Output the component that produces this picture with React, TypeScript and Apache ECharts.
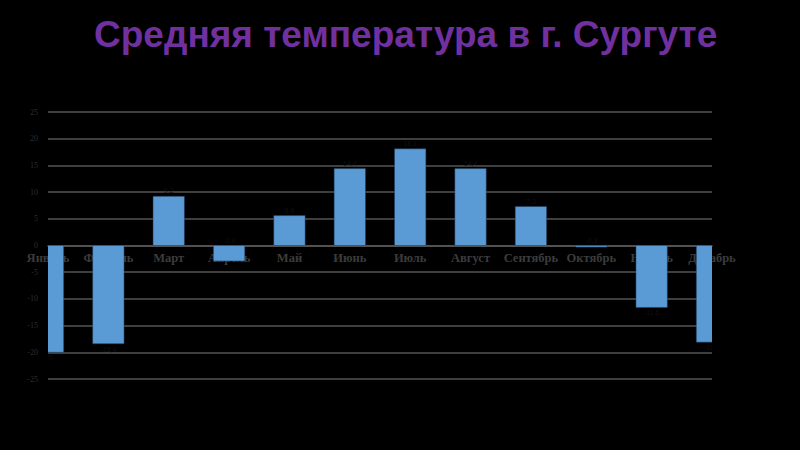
import React, { useEffect, useRef } from "react";
import * as echarts from "echarts";

const titleText = "Средняя температура в г. Сургуте";
const months = [
  "Январь", "Февраль", "Март", "Апрель", "Май", "Июнь",
  "Июль", "Август", "Сентябрь", "Октябрь", "Ноябрь", "Декабрь",
];
const temperatures = [-20, -18.4, 9.2, -2.9, 5.6, 14.4, 18.1, 14.4, 7.3, -0.3, -11.6, -18.1];
const yMin = -25;
const yMax = 25;
const yStep = 5;

const GRID_TOP = 112;
const GRID_BOTTOM = 71;
const GRID_H = 450 - GRID_TOP - GRID_BOTTOM;

export default function App() {
  const ref = useRef<HTMLDivElement>(null);
  useEffect(() => {
    if (!ref.current) return;
    const chart = echarts.init(ref.current, null, { renderer: "svg" });
    const zeroOffset = -((0 - yMin) / (yMax - yMin)) * GRID_H;
    chart.setOption({
      animation: false,
      backgroundColor: "#000000",
      title: {
        text: titleText,
        left: 89,
        top: 11,
        textStyle: {
          color: "#7030A0",
          fontFamily: "Liberation Sans, Arial, sans-serif",
          fontWeight: "bold",
          fontSize: 37,
        },
      },
      grid: { left: 48, right: 88, top: GRID_TOP, bottom: GRID_BOTTOM },
      xAxis: {
        type: "category",
        data: months,
        boundaryGap: false,
        offset: zeroOffset,
        axisLine: { onZero: false, lineStyle: { color: "#5a5a5a", width: 1.5 } },
        axisTick: { show: false },
        axisLabel: {
          color: "#3c3c3c",
          fontFamily: "Liberation Serif, Times New Roman, serif",
          fontWeight: "bold",
          fontSize: 12.5,
          margin: 6,
          interval: 0,
        },
        splitLine: { show: false },
      },
      yAxis: {
        type: "value",
        min: yMin,
        max: yMax,
        interval: yStep,
        axisLine: { show: false },
        axisTick: { show: false },
        axisLabel: {
          color: "#2e2e2e",
          fontFamily: "Liberation Serif, Times New Roman, serif",
          fontSize: 8,
          margin: 10,
        },
        splitLine: { lineStyle: { color: "#555555", width: 1.5 } },
      },
      series: [
        {
          type: "custom",
          clip: true,
          z: 3,
          data: temperatures.map((v, i) => [i, v]),
          renderItem: (params: any, api: any) => {
            const idx = api.value(0);
            const val = api.value(1);
            const top = api.coord([idx, val]);
            const base = api.coord([idx, 0]);
            const bw = api.size([1, 0])[0] * 0.52;
            const y = Math.min(top[1], base[1]);
            const h = Math.abs(base[1] - top[1]);
            const above = val >= 0 || h < 22;
            return {
              type: "group",
              children: [
                {
                  type: "rect",
                  shape: { x: top[0] - bw / 2, y, width: bw, height: h },
                  style: { fill: "#5B9BD5", stroke: "#1f3a5a", lineWidth: 0.5 },
                },
                {
                  type: "text",
                  x: top[0],
                  y: above ? y - 2 : y + h + 2,
                  style: {
                    text: String(val).replace(".", ","),
                    fill: "#101010",
                    fontSize: 7,
                    align: "center",
                    verticalAlign: above ? "bottom" : "top",
                  },
                },
              ],
            };
          },
        },
      ],
    });
    return () => chart.dispose();
  }, []);
  return (
    <div
      ref={ref}
      style={{ position: "absolute", left: 0, top: 0, width: 800, height: 450, background: "#000" }}
    />
  );
}
